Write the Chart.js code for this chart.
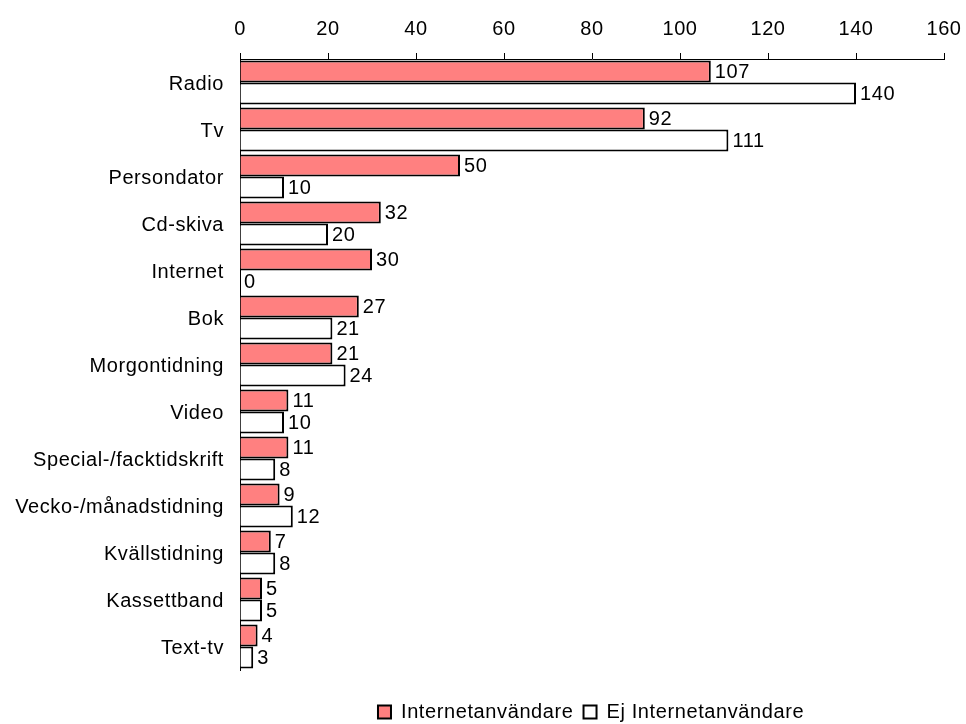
<!DOCTYPE html>
<html>
<head>
<meta charset="utf-8">
<script src="https://cdn.jsdelivr.net/npm/chart.js@4/dist/chart.umd.min.js"></script>
<style>
  html, body { margin: 0; padding: 0; background: #fff; }
  #wrap { width: 966px; height: 724px; }
</style>
</head>
<body>
<div id="wrap"><canvas id="media-chart" width="966" height="724"></canvas></div>
<script>
// Data
const categories = ['Radio', 'Tv', 'Persondator', 'Cd-skiva', 'Internet', 'Bok', 'Morgontidning',
  'Video', 'Special-/facktidskrift', 'Vecko-/månadstidning', 'Kvällstidning', 'Kassettband', 'Text-tv'];
const internetUsers = [107, 92, 50, 32, 30, 27, 21, 11, 11, 9, 7, 5, 4];
const nonInternetUsers = [140, 111, 10, 20, 0, 21, 24, 10, 8, 12, 8, 5, 3];
const xTicks = [0, 20, 40, 60, 80, 100, 120, 140, 160];

const FONT = "'Liberation Sans', Arial, sans-serif";

// slightly wider letter spacing, like the original rendering
const spacing = {
    id: 'spacing',
    beforeDraw(chart) {
        chart.ctx.letterSpacing = '0.6px';
    }
};

// move the legend a bit down and left, below the plot
const legendShift = {
    id: 'legendShift',
    afterLayout(chart) {
        const lg = chart.legend;
        if (lg) {
            lg.top += 22;
            lg.bottom += 22;
            lg.left -= 12;
            lg.right -= 12;
        }
    }
};

// value labels to the right of each bar
const valueLabels = {
    id: 'valueLabels',
    afterDatasetsDraw(chart) {
        const c = chart.ctx;
        c.save();
        c.font = '20px ' + FONT;
        c.fillStyle = '#000';
        c.textBaseline = 'middle';
        c.textAlign = 'left';
        chart.data.datasets.forEach((ds, i) => {
            chart.getDatasetMeta(i).data.forEach((bar, j) => {
                c.fillText(String(ds.data[j]), bar.x + 4, bar.y + 1);
            });
        });
        c.restore();
    }
};

const ctx = document.getElementById('media-chart').getContext('2d');
new Chart(ctx, {
    type: 'bar',
    data: {
        labels: categories,
        datasets: [{
            label: 'Internetanvändare',
            data: internetUsers,
            backgroundColor: '#FF8080',
            borderColor: '#000',
            borderWidth: 2,
            categoryPercentage: 0.94,
            barPercentage: 1.0
        }, {
            label: 'Ej Internetanvändare',
            data: nonInternetUsers,
            backgroundColor: '#FFFFFF',
            borderColor: '#000',
            borderWidth: 2,
            categoryPercentage: 0.94,
            barPercentage: 1.0
        }]
    },
    options: {
        indexAxis: 'y',
        responsive: false,
        animation: false,
        layout: { padding: { left: 0, right: 22, top: 0, bottom: 14 } },
        scales: {
            x: {
                position: 'top',
                min: 0,
                max: 160,
                afterBuildTicks: (scale) => { scale.ticks = xTicks.map(v => ({ value: v })); },
                afterFit: (scale) => {
                    scale.height = 59;
                    scale.paddingLeft = 0;
                    scale.paddingRight = 0;
                },
                grid: { drawOnChartArea: false, drawTicks: true, tickLength: 6, color: '#000' },
                border: { display: true, color: '#000', width: 1 },
                ticks: { color: '#000', font: { family: FONT, size: 20 }, padding: 12, maxRotation: 0 }
            },
            y: {
                afterFit: (scale) => { scale.width = 240; },
                grid: { display: false },
                border: { display: true, color: '#000', width: 1 },
                ticks: { color: '#000', font: { family: FONT, size: 20 }, padding: 8, labelOffset: 2 }
            }
        },
        plugins: {
            legend: {
                position: 'bottom',
                fullSize: false,
                labels: {
                    color: '#000',
                    font: { family: FONT, size: 20 },
                    boxWidth: 13,
                    boxHeight: 13,
                    padding: 10
                }
            },
            tooltip: { enabled: false }
        }
    },
    plugins: [spacing, legendShift, valueLabels]
});
</script>
</body>
</html>
